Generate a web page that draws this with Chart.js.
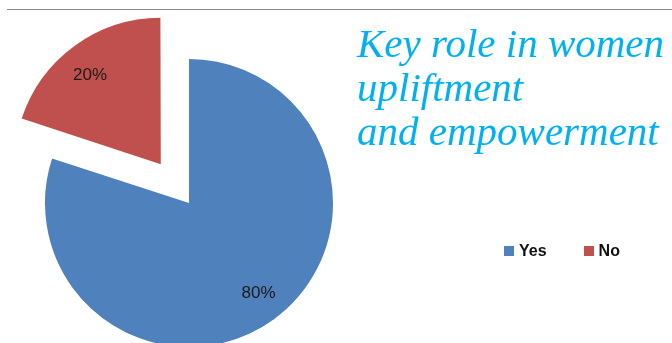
<!DOCTYPE html>
<html>
<head>
<meta charset="utf-8">
<script src="https://cdn.jsdelivr.net/npm/chart.js@4.4.1/dist/chart.umd.min.js"></script>
<style>
  html, body { margin: 0; padding: 0; background: #fff; }
  #wrap { position: relative; width: 672px; height: 343px; overflow: hidden; }
  #topline { position: absolute; left: 7px; right: 0; top: 9px; height: 0; border-top: 1px solid #8a8a8a; }
  #title {
    position: absolute; left: 357px; top: 21px;
    font-family: "Liberation Serif", "Times New Roman", serif; font-style: italic;
    font-size: 41px; line-height: 44px; color: #00b0f0; white-space: nowrap;
  }
  #legend {
    position: absolute; left: 504px; top: 242px;
    font-family: "Liberation Sans", Arial, sans-serif; font-weight: bold; font-size: 16px; color: #111;
    display: flex; white-space: nowrap;
  }
  #legend .item { display: flex; align-items: center; margin-right: 37px; }
  #legend .box { width: 10px; height: 10px; margin-right: 5px; }
  canvas { position: absolute; left: 0; top: 0; }
</style>
</head>
<body>
<div id="wrap">
  <div id="topline"></div>
  <canvas id="pie" width="672" height="343"></canvas>
  <div id="title">Key role in women<br>upliftment<br>and empowerment</div>
  <div id="legend"></div>
</div>
<script>
const labels = ['Yes', 'No'];
const values = [80, 20];
const colors = ['#4f81bd', '#c0504d'];
const explode = [0, 192];

document.addEventListener('DOMContentLoaded', function() {
    // percentage labels inside the slices
    const sliceLabels = {
        id: 'sliceLabels',
        afterDatasetsDraw(chart) {
            const ctx = chart.ctx;
            const meta = chart.getDatasetMeta(0);
            const total = values.reduce((a, b) => a + b, 0);
            ctx.save();
            ctx.font = '17px "Liberation Sans", Arial, sans-serif';
            ctx.fillStyle = '#1a1a1a';
            ctx.textAlign = 'center';
            ctx.textBaseline = 'middle';
            meta.data.forEach(function(arc, i) {
                const p = arc.getProps(['x', 'y', 'startAngle', 'endAngle', 'outerRadius'], true);
                const mid = (p.startAngle + p.endAngle) / 2 - 0.03;
                const shift = (arc.options.offset || 0) / 4;
                const r = shift + p.outerRadius * 0.79;
                const pct = Math.round(values[i] / total * 100) + '%';
                ctx.fillText(pct, p.x + Math.cos(mid) * r, p.y + Math.sin(mid) * r);
            });
            ctx.restore();
        }
    };

    const chart = new Chart(document.getElementById('pie').getContext('2d'), {
        type: 'pie',
        data: {
            labels: labels,
            datasets: [{
                data: values,
                backgroundColor: colors,
                borderWidth: 0,
                offset: explode,
                hoverOffset: 0
            }]
        },
        options: {
            responsive: false,
            animation: false,
            radius: 144,
            layout: { padding: { left: 0, right: 294, top: 63, bottom: 0 } },
            plugins: {
                legend: { display: false },
                tooltip: { enabled: false }
            }
        },
        plugins: [sliceLabels]
    });

    // legend row
    const legend = document.getElementById('legend');
    labels.forEach(function(lab, i) {
        const item = document.createElement('div');
        item.className = 'item';
        item.innerHTML = '<span class="box" style="background:' + colors[i] + '"></span><span>' + lab + '</span>';
        legend.appendChild(item);
    });
});
</script>
</body>
</html>
